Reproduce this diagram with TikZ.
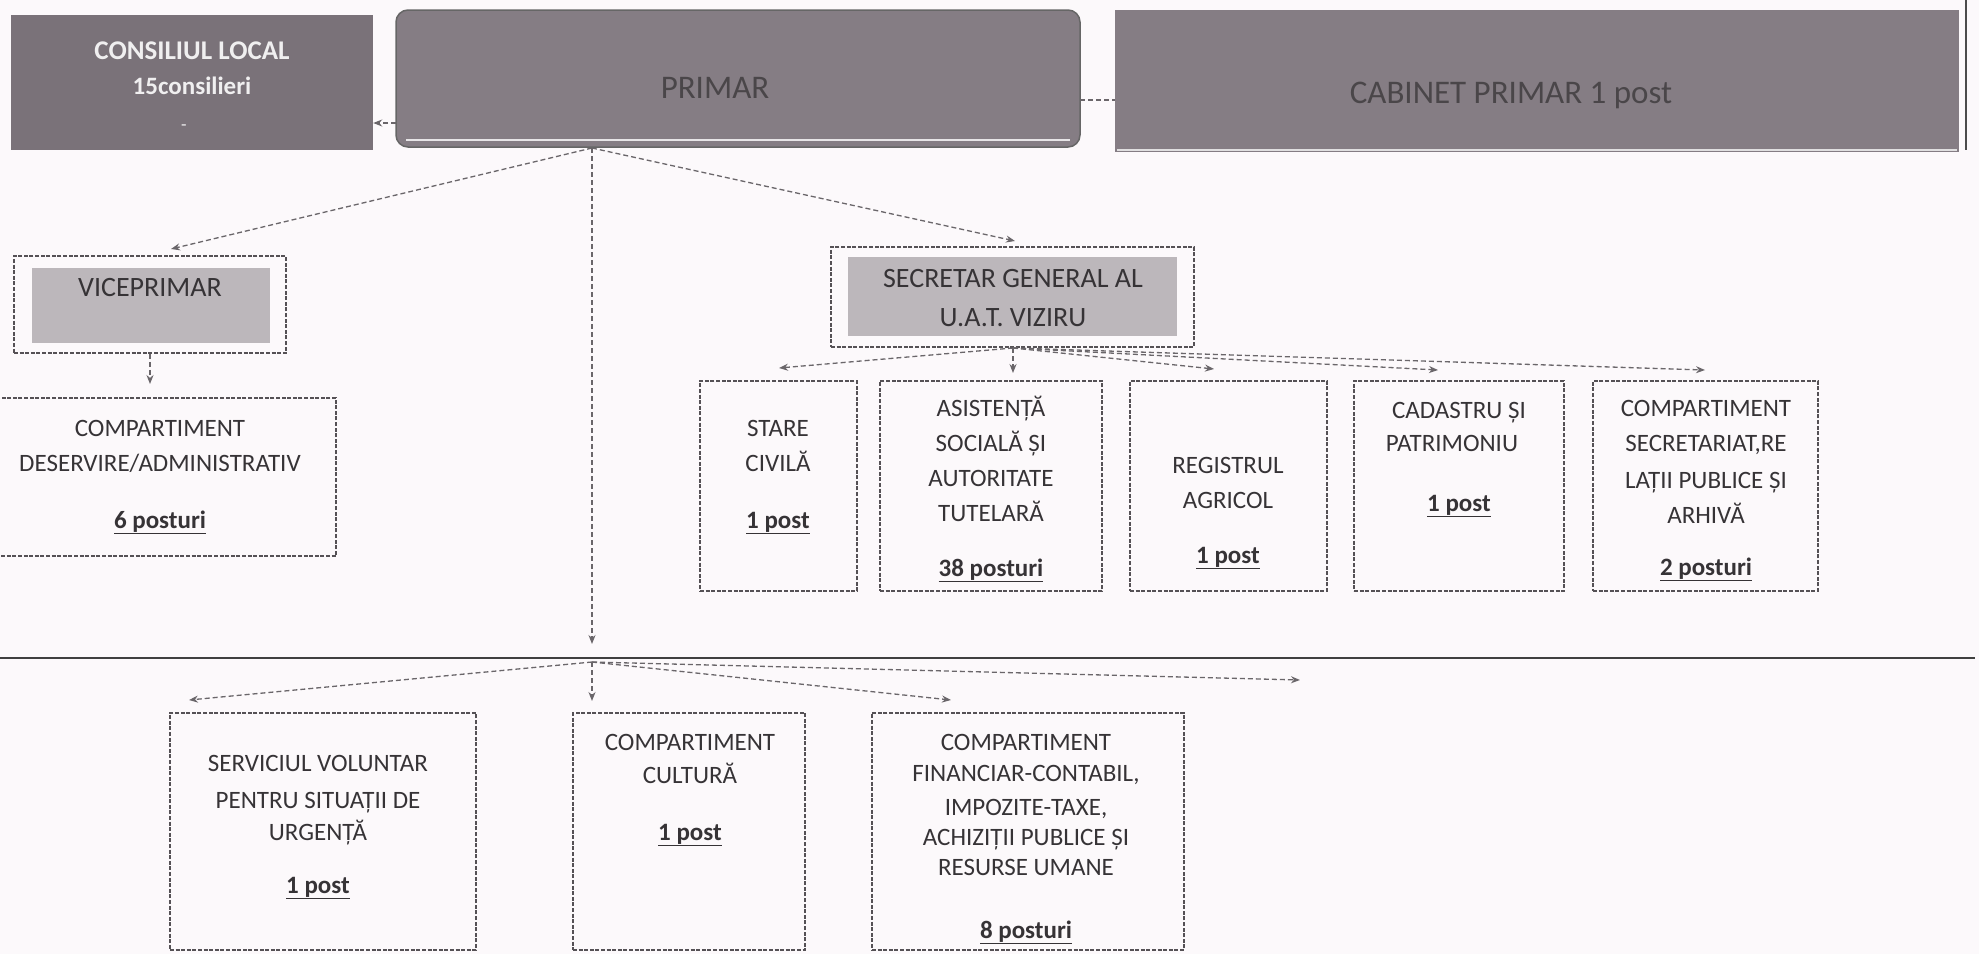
\documentclass[tikz,border=0pt]{standalone}
\usepackage{fontspec}
\setmainfont{Carlito}
\usetikzlibrary{arrows.meta}
\definecolor{bgc}{HTML}{FCF9FB}
\definecolor{topbox}{HTML}{857D84}
\definecolor{topdark}{HTML}{7A7279}
\definecolor{shadec}{HTML}{BCB7BB}
\definecolor{txtc}{HTML}{363336}
\definecolor{linec}{HTML}{555155}
\definecolor{connc}{HTML}{6A666A}
\newcommand\postu[1]{\textbf{\underline{#1}}}
\tikzset{
  x=1pt, y=-1pt,
  dbox/.style={draw=linec, line width=1.6pt, dash pattern=on 4pt off 1.6pt, inner sep=0pt},
  shbox/.style={fill=shadec, draw=none, inner sep=0pt},
  topnode/.style={fill=topbox, draw=none, inner sep=0pt},
  txt/.style={font=\fontsize{25}{30}\selectfont, text=txtc, anchor=base, inner sep=0pt},
  bigtxt/.style={font=\fontsize{28}{34}\selectfont, text=txtc, anchor=base, inner sep=0pt},
  toptxt/.style={font=\fontsize{33}{40}\selectfont, text=txtc!75!topbox, anchor=base, inner sep=0pt},
  whtxt/.style={font=\bfseries\fontsize{27}{32}\selectfont, text=white!88!topbox, anchor=base, inner sep=0pt},
  conn/.style={draw=connc, line width=1.3pt, dash pattern=on 5pt off 3pt, -{Stealth[length=9pt,width=7pt]}},
  plainconn/.style={draw=connc, line width=1.3pt, dash pattern=on 5pt off 3pt},
  bus/.style={draw=black!75, line width=1.8pt}
}
\begin{document}
\begin{tikzpicture}
\clip (0,0) rectangle (1979,954);
\fill[bgc] (0,0) rectangle (1979,954);

% ---------- top row ----------
\node[topnode, fill=topdark, minimum width=362pt, minimum height=135pt] (cons) at (192,82.5) {};
\node[whtxt] (cons1) at (192,59) {CONSILIUL LOCAL};
\node[whtxt, font=\bfseries\fontsize{25}{30}\selectfont] (cons2) at (192,94) {15consilieri};
\node[whtxt, font=\fontsize{18}{20}\selectfont] (cons3) at (184,130) {-};

\node[topnode, draw=black!60, line width=1.5pt, rounded corners=12pt, minimum width=684pt, minimum height=137pt] (primar) at (738,78.5) {};
\draw[white!80!topbox, line width=2.5pt] (406,140) -- (1070,140);
\node[toptxt] (primart) at (715,98) {PRIMAR};

\node[topnode, minimum width=844pt, minimum height=142pt] (cab) at (1537,81) {};
\draw[white!75!topbox, line width=2.5pt] (1117,150) -- (1957,150);
\node[toptxt] (cabt) at (1511,103) {CABINET PRIMAR 1 post};
\draw[black!70, line width=1.2pt] (1966,0) -- (1966,150);

\coordinate (pc) at (396,123);
\draw[conn] (pc) -- (cons.east |- pc);
\coordinate (pk) at (1080,100);
\draw[plainconn] (pk) -- (cab.west |- pk);

% ---------- viceprimar / secretar ----------
\node[dbox, minimum width=272pt, minimum height=97pt] (vice) at (150,304.5) {};
\node[shbox, minimum width=238pt, minimum height=75pt] (vicesh) at (151,305.5) {};
\node[bigtxt] (vicet) at (150,296) {VICEPRIMAR};

\node[dbox, minimum width=363pt, minimum height=100pt] (sg) at (1012.5,297) {};
\node[shbox, minimum width=329pt, minimum height=79pt] (sgsh) at (1012.5,296.5) {};
\node[bigtxt] (sgt1) at (1013,287) {SECRETAR GENERAL AL};
\node[bigtxt] (sgt2) at (1013,326) {U.A.T. VIZIRU};

\coordinate (top) at (592,148);
\coordinate (vtip) at (171,249);
\coordinate (sgtip) at (1015,241);
\draw[conn] (top) -- (vtip);
\draw[conn] (top) -- (sgtip);

% deservire
\node[dbox, minimum width=346pt, minimum height=158pt] (des) at (163,477) {};
\coordinate (destip) at (150,384);
\draw[conn] (vice.south -| destip) -- (destip);
\node[txt] (des1) at (160,436) {COMPARTIMENT};
\node[txt] (des2) at (160,471) {DESERVIRE/ADMINISTRATIV};
\node[txt] (des3) at (160,528) {\postu{6 posturi}};

% ---------- second row ----------
\node[dbox, minimum width=157pt, minimum height=210pt] (sc) at (778.5,486) {};
\node[dbox, minimum width=222pt, minimum height=210pt] (as) at (991,486) {};
\node[dbox, minimum width=197pt, minimum height=210pt] (rg) at (1228.5,486) {};
\node[dbox, minimum width=210pt, minimum height=210pt] (cd) at (1459,486) {};
\node[dbox, minimum width=225pt, minimum height=210pt] (sr) at (1705.5,486) {};

\node[txt] (sc1) at (778,436) {STARE};
\node[txt] (sc2) at (778,471) {CIVILĂ};
\node[txt] (sc3) at (778,528) {\postu{1 post}};

\node[txt] (as1) at (991,416) {ASISTENȚĂ};
\node[txt] (as2) at (991,451) {SOCIALĂ ȘI};
\node[txt] (as3) at (991,486) {AUTORITATE};
\node[txt] (as4) at (991,521) {TUTELARĂ};
\node[txt] (as5) at (991,576) {\postu{38 posturi}};

\node[txt] (rg1) at (1228,473) {REGISTRUL};
\node[txt] (rg2) at (1228,508) {AGRICOL};
\node[txt] (rg3) at (1228,563) {\postu{1 post}};

\node[txt] (cd1) at (1459,418) {CADASTRU ȘI};
\node[txt] (cd2) at (1452,451) {PATRIMONIU};
\node[txt] (cd3) at (1459,511) {\postu{1 post}};

\node[txt] (sr1) at (1706,416) {COMPARTIMENT};
\node[txt] (sr2) at (1706,451) {SECRETARIAT,RE};
\node[txt] (sr3) at (1706,488) {LAȚII PUBLICE ȘI};
\node[txt] (sr4) at (1706,523) {ARHIVĂ};
\node[txt] (sr5) at (1706,575) {\postu{2 posturi}};

\coordinate (sgb) at (1013,348);
\coordinate (t1) at (779,368);
\coordinate (t2) at (1013,373);
\coordinate (t3) at (1214,369);
\coordinate (t4) at (1438,370);
\coordinate (t5) at (1705,370);
\foreach \t in {t1,t2,t3,t4,t5} \draw[conn] (sgb) -- (\t);

% ---------- main vertical & bus ----------
\coordinate (vtip2) at (592,644);
\draw[conn] (top) -- (vtip2);
\coordinate (busl) at (0,658);
\coordinate (busr) at (1975,658);
\draw[bus] (busl) -- (busr);

\node[dbox, minimum width=306pt, minimum height=237pt] (sv) at (323,831.5) {};
\node[dbox, minimum width=232pt, minimum height=237pt] (cu) at (689,831.5) {};
\node[dbox, minimum width=312pt, minimum height=237pt] (fi) at (1028,831.5) {};

\node[txt] (sv1) at (318,771) {SERVICIUL VOLUNTAR};
\node[txt] (sv2) at (318,808) {PENTRU SITUAȚII DE};
\node[txt] (sv3) at (318,840) {URGENȚĂ};
\node[txt] (sv4) at (318,893) {\postu{1 post}};

\node[txt] (cu1) at (690,750) {COMPARTIMENT};
\node[txt] (cu2) at (690,783) {CULTURĂ};
\node[txt] (cu3) at (690,840) {\postu{1 post}};

\node[txt] (fi1) at (1026,750) {COMPARTIMENT};
\node[txt] (fi2) at (1026,781) {FINANCIAR-CONTABIL,};
\node[txt] (fi3) at (1026,815) {IMPOZITE-TAXE,};
\node[txt] (fi4) at (1026,845) {ACHIZIȚII PUBLICE ȘI};
\node[txt] (fi5) at (1026,875) {RESURSE UMANE};
\node[txt] (fi6) at (1026,938) {\postu{8 posturi}};

\coordinate (hub) at (592,662);
\coordinate (b1) at (189,700);
\coordinate (b2) at (592,701);
\coordinate (b3) at (951,700);
\coordinate (b4) at (1300,680);
\foreach \t in {b1,b2,b3,b4} \draw[conn] (hub) -- (\t);
\end{tikzpicture}
\end{document}
